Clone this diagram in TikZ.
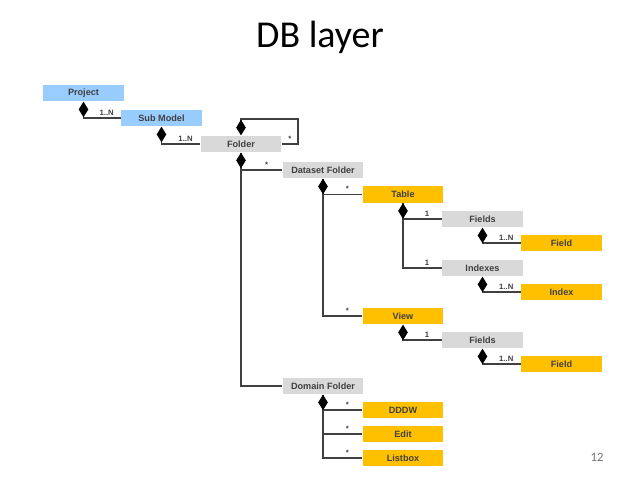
\documentclass[tikz,border=0pt]{standalone}
\usepackage{fontspec}
\setmainfont{Liberation Sans}
\newfontfamily\titlefont{Carlito}
\usetikzlibrary{arrows.meta}
\definecolor{modelblue}{RGB}{153,204,255}
\definecolor{dbgrey}{RGB}{217,217,217}
\definecolor{dborange}{RGB}{255,192,0}
\definecolor{wire}{RGB}{64,64,64}

\begin{document}
\begin{tikzpicture}[x=0.025cm,y=-0.025cm,line width=0.9pt,
  box/.style={minimum width=2cm,minimum height=0.4cm,inner sep=0pt,
    font=\fontsize{6.5}{7}\selectfont\bfseries,text=wire},
  bluebox/.style={box,fill=modelblue},
  greybox/.style={box,fill=dbgrey},
  orangebox/.style={box,fill=dborange},
  comp/.style={{Diamond[length=3.9mm,width=2.4mm,color=black]}-,draw=wire},
  link/.style={draw=wire},
  mult/.style={pos=0.81,above,inner sep=1.5pt,
    font=\fontsize{5.5}{6}\selectfont\bfseries,text=wire}]
\useasboundingbox (0,0) rectangle (640,480);
% ---------- title ----------
\node[font=\titlefont\fontsize{27}{30}\selectfont] (title) at (320,37) {DB layer};
\node[font=\titlefont\fontsize{9}{10}\selectfont,text=black!55] (page) at (597,457) {12};
% ---------- model / folders ----------
\node[bluebox] (project) at (83.5,93) {Project};
\node[bluebox] (submodel) at (161.5,118) {Sub Model};
\node[greybox] (folder) at (241,144) {Folder};
\node[greybox] (dataset) at (323,170) {Dataset Folder};
\node[greybox] (domain) at (323,386) {Domain Folder};
% ---------- table ----------
\node[orangebox] (table) at (403,194.5) {Table};
\node[greybox] (tfields) at (482.5,219) {Fields};
\node[orangebox] (tfield) at (561.5,243) {Field};
\node[greybox] (indexes) at (482.5,268) {Indexes};
\node[orangebox] (index) at (561.5,292) {Index};
% ---------- view ----------
\node[orangebox] (view) at (403,316) {View};
\node[greybox] (vfields) at (482.5,340) {Fields};
\node[orangebox] (vfield) at (561.5,364) {Field};
% ---------- domain items ----------
\node[orangebox] (dddw) at (403,410) {DDDW};
\node[orangebox] (edit) at (403,434) {Edit};
\node[orangebox] (listbox) at (403,458) {Listbox};
% ---------- connectors ----------
\coordinate (loop) at (298,119);
\draw[link] (folder.south) |- (domain.west);
\draw[link] (dataset.south) |- (view.west) node[mult] {*};
\draw[link] (table.south) |- (indexes.west) node[mult] {1};
\draw[link] (domain.south) |- (edit.west) node[mult] {*};
\draw[link] (domain.south) |- (listbox.west) node[mult] {*};
\draw[comp] (project.south) |- (submodel.west) node[mult] {1..N};
\draw[comp] (submodel.south) |- (folder.west) node[mult] {1..N};
\draw[comp] (folder.north) |- (loop) |- (folder.east) node[mult,pos=0.75] {*};
\draw[comp] (folder.south) |- (dataset.west) node[mult] {*};
\draw[comp] (dataset.south) |- (table.west) node[mult] {*};
\draw[comp] (table.south) |- (tfields.west) node[mult] {1};
\draw[comp] (tfields.south) |- (tfield.west) node[mult] {1..N};
\draw[comp] (indexes.south) |- (index.west) node[mult] {1..N};
\draw[comp] (view.south) |- (vfields.west) node[mult] {1};
\draw[comp] (vfields.south) |- (vfield.west) node[mult] {1..N};
\draw[comp] (domain.south) |- (dddw.west) node[mult] {*};
\end{tikzpicture}
\end{document}
